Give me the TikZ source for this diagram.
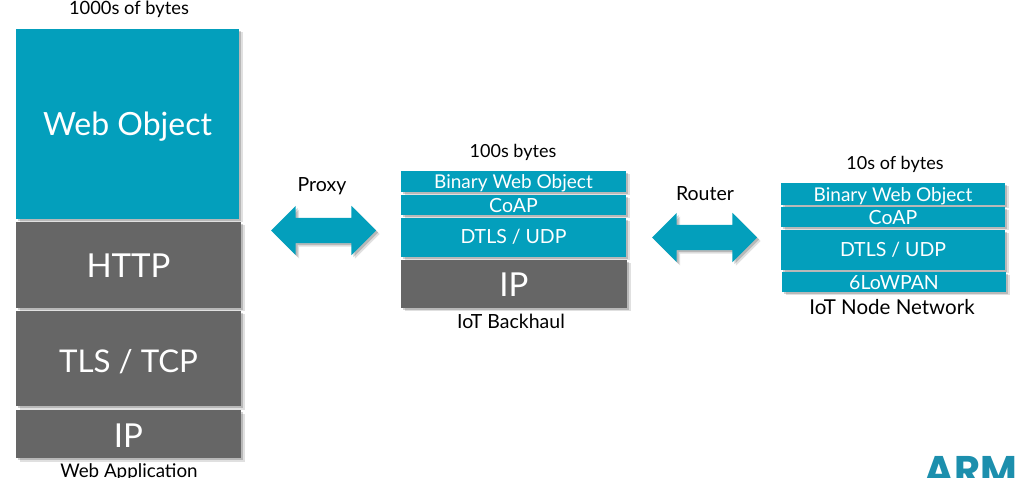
\documentclass[tikz,border=0pt]{standalone}
\usepackage{fontspec}
\setmainfont{Lato}
\newfontfamily\logofont{Poppins}
\usetikzlibrary{shapes.arrows,shadows}
\definecolor{armteal}{rgb}{0.012,0.624,0.737}
\definecolor{armgrey}{rgb}{0.4,0.4,0.4}
\definecolor{armlogo}{rgb}{0.11,0.56,0.68}
\tikzset{
softshadow/.style={general shadow={fill=black,opacity=0.12,shadow xshift=3.5pt,shadow yshift=-3.5pt},general shadow={fill=black,opacity=0.18,shadow xshift=2pt,shadow yshift=-2pt}},
layer/.style={softshadow,text=white,inner sep=0pt,text depth=0pt},
bluelayer/.style={layer,fill=armteal},
greylayer/.style={layer,fill=armgrey},
bigtext/.style={font=\fontsize{33}{40}\selectfont,text height=26pt},
smalltext/.style={font=\fontsize{19.5}{24}\selectfont,text height=15pt},
caption/.style={anchor=base,inner sep=0pt,font=\fontsize{19.5}{24}\selectfont,text=black},
linkarrow/.style={double arrow,softshadow,fill=armteal,inner sep=12.5pt,minimum height=105pt,minimum width=49pt,double arrow head extend=12pt,double arrow tip angle=90}
}
\begin{document}
\begin{tikzpicture}[x=1pt,y=-1pt]
\useasboundingbox (0,0) rectangle (1026,478);
\clip (0,0) rectangle (1026,478);
\node[caption,font=\fontsize{18.3}{24}\selectfont] (webtop) at (129,15) {1000s of bytes};
\node[bluelayer,bigtext,font=\fontsize{32}{40}\selectfont,text height=24pt,minimum width=223pt,minimum height=190pt] (webobject) at (127.5,124) {Web Object};
\node[greylayer,bigtext,minimum width=225pt,minimum height=86pt] (webhttp) at (128.5,265) {HTTP};
\node[greylayer,bigtext,font=\fontsize{31.3}{40}\selectfont,text height=29pt,minimum width=225pt,minimum height=95pt] (webtls) at (128.5,358.5) {TLS / TCP};
\node[greylayer,bigtext,minimum width=225pt,minimum height=48pt] (webip) at (128.5,434) {IP};
\node[caption,font=\fontsize{18.8}{24}\selectfont] (webname) at (129,477) {Web Application};
\node[caption] (proxyname) at (322,192) {Proxy};
\node[linkarrow] (proxy) at (323.5,230.5) {};
\node[caption,font=\fontsize{18}{24}\selectfont] (midtop) at (513,158) {100s bytes};
\node[bluelayer,smalltext,font=\fontsize{19}{24}\selectfont,minimum width=225pt,minimum height=21pt] (midbinary) at (513.5,181.5) {Binary Web Object};
\node[bluelayer,smalltext,text height=16pt,minimum width=225pt,minimum height=20pt] (midcoap) at (513.5,205) {CoAP};
\node[bluelayer,smalltext,text height=13pt,minimum width=225pt,minimum height=39pt] (middtls) at (513.5,237.5) {DTLS / UDP};
\node[greylayer,bigtext,minimum width=226pt,minimum height=48pt] (midip) at (514,284) {IP};
\node[caption] (midname) at (511,329) {IoT Backhaul};
\node[caption] (routername) at (705,201) {Router};
\node[linkarrow] (router) at (704.5,237.5) {};
\node[caption,font=\fontsize{18}{24}\selectfont] (nodetop) at (895,170) {10s of bytes};
\node[bluelayer,smalltext,font=\fontsize{19}{24}\selectfont,text height=16pt,minimum width=224pt,minimum height=22pt] (nodebinary) at (893,194) {Binary Web Object};
\node[bluelayer,smalltext,text height=16pt,minimum width=224pt,minimum height=20pt] (nodecoap) at (893,217) {CoAP};
\node[bluelayer,smalltext,text height=14pt,minimum width=224pt,minimum height=40pt] (nodedtls) at (893,250) {DTLS / UDP};
\node[bluelayer,smalltext,text height=16pt,minimum width=224pt,minimum height=20pt] (nodelowpan) at (894,282) {6LoWPAN};
\node[caption,font=\fontsize{20.5}{24}\selectfont] (nodename) at (892,315) {IoT Node Network};
\node[anchor=base,inner sep=0pt,text=armlogo,font=\logofont\fontsize{40}{44}\selectfont\bfseries] (armlogo) at (971,484) {ARM};
\end{tikzpicture}
\end{document}
